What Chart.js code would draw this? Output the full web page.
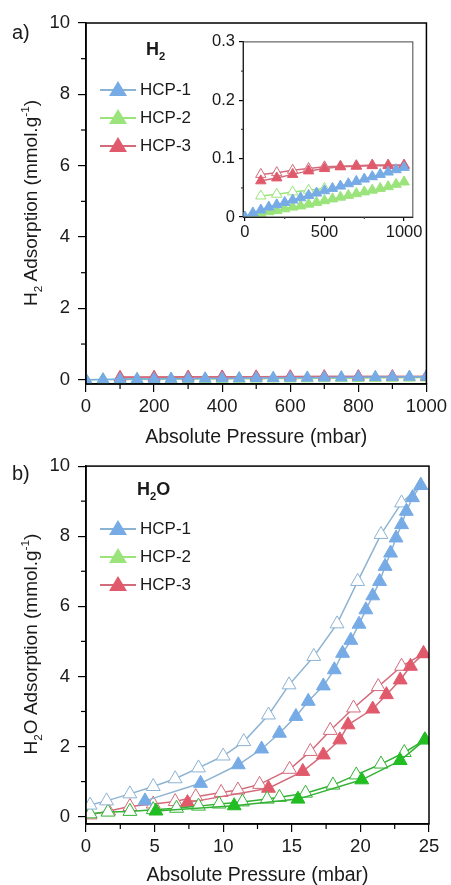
<!DOCTYPE html>
<html>
<head>
<meta charset="utf-8">
<script src="https://cdn.jsdelivr.net/npm/chart.js@4.4.1/dist/chart.umd.min.js"></script>
<style>
body { margin: 0; background: #fff; overflow: hidden; font-family: "Liberation Sans", Arial, sans-serif; color: #1a1a1a; }
#page { position: relative; width: 451px; height: 885px; }
canvas { position: absolute; }
.lbl { position: absolute; white-space: nowrap; line-height: 1.2; }
.ytitle { position: absolute; font-size: 19px; white-space: nowrap; transform: translate(-50%, -50%) rotate(-90deg); }
.ytitle sup, .ytitle sub, .lbl sub { font-size: 0.62em; }
.leg { position: absolute; left: 100px; height: 20px; font-size: 17px; display: flex; align-items: center; }
.leg .sym { position: relative; width: 36px; height: 20px; margin-right: 4px; }
.leg .ln { position: absolute; left: 0; right: 0; top: 9px; height: 2px; }
.leg .tri { position: absolute; left: 9px; top: 1px; width: 0; height: 0; border-left: 9px solid transparent; border-right: 9px solid transparent; border-bottom: 15px solid; }
</style>
</head>
<body>
<div id="page">
  <canvas id="h2Chart" width="451" height="447" style="left:0;top:0"></canvas>
  <canvas id="h2oChart" width="451" height="438" style="left:0;top:447px"></canvas>
  <canvas id="insetChart" width="230" height="225" style="left:195px;top:28px"></canvas>

  <div class="lbl" style="left:12px;top:20px;font-size:20px">a)</div>
  <div class="lbl" style="left:12px;top:461px;font-size:20px">b)</div>
  <div class="lbl" style="left:146px;top:39px;font-size:18px;font-weight:bold">H<sub>2</sub></div>
  <div class="lbl" style="left:137px;top:479px;font-size:18px;font-weight:bold">H<sub>2</sub>O</div>

  <div class="ytitle" style="left:31px;top:203px">H<sub>2</sub> Adsorption (mmol.g<sup>-1</sup>)</div>
  <div class="ytitle" style="left:31px;top:644px">H<sub>2</sub>O Adsorption (mmol.g<sup>-1</sup>)</div>

  <div id="legTop"></div>
  <div id="legBottom"></div>
</div>

<script>
// --- DATA ---
// H2 isotherms, pressure in mbar, uptake in mmol/g
const h2P = [0, 50, 100, 150, 200, 250, 300, 350, 400, 450, 500, 550, 600, 650, 700, 750, 800, 850, 900, 950, 1000];
const h2Hcp1Ads = [0, 0.007, 0.012, 0.017, 0.021, 0.025, 0.029, 0.033, 0.037, 0.041, 0.045, 0.049, 0.053, 0.057, 0.061, 0.065, 0.069, 0.073, 0.077, 0.081, 0.085];
const h2Hcp2Ads = [0, 0.003, 0.006, 0.009, 0.011, 0.014, 0.017, 0.019, 0.022, 0.025, 0.028, 0.031, 0.034, 0.037, 0.040, 0.043, 0.046, 0.049, 0.052, 0.056, 0.060];
const h2P100 = [100, 200, 300, 400, 500, 600, 700, 800, 900, 1000];
const h2Hcp3Ads = [0.062, 0.067, 0.073, 0.079, 0.083, 0.086, 0.087, 0.088, 0.088, 0.088];
const h2Hcp3Des = [0.073, 0.076, 0.080, 0.083, 0.086, 0.087, 0.088, 0.089, 0.089, 0.089];
const h2Hcp2DesP = [100, 200, 300, 400, 500];
const h2Hcp2Des = [0.036, 0.039, 0.043, 0.046, 0.049];

// H2O isotherms, pressure in mbar, uptake in mmol/g
const h2oHcp1AdsP = [4.3, 8.35, 11.1, 12.8, 14.1, 15.3, 16.2, 17.3, 18.1, 18.7, 19.3, 19.9, 20.4, 20.9, 21.4, 21.8, 22.2, 22.6, 23.0, 23.35, 23.8, 24.4];
const h2oHcp1Ads = [0.45, 0.95, 1.48, 1.93, 2.38, 2.86, 3.29, 3.73, 4.19, 4.66, 5.03, 5.49, 5.9, 6.3, 6.71, 7.14, 7.52, 7.95, 8.33, 8.71, 9.1, 9.45];
const h2oHcp1DesP = [24.4, 23.0, 21.5, 19.8, 18.3, 16.6, 14.8, 13.3, 11.5, 10.0, 8.2, 6.5, 4.9, 3.2, 1.5, 0.3];
const h2oHcp1Des = [9.45, 8.95, 8.05, 6.71, 5.5, 4.57, 3.76, 2.9, 2.14, 1.73, 1.39, 1.08, 0.86, 0.65, 0.45, 0.33];
const h2oHcp2AdsP = [5.1, 10.8, 15.45, 20.1, 22.9, 24.7];
const h2oHcp2Ads = [0.16, 0.31, 0.5, 1.05, 1.6, 2.19];
const h2oHcp2DesP = [24.7, 23.2, 21.5, 19.7, 18.0, 16.0, 14.1, 13.2, 11.4, 9.7, 8.2, 6.6, 4.9, 3.2, 1.6, 0.3];
const h2oHcp2Des = [2.19, 1.83, 1.5, 1.19, 0.9, 0.67, 0.55, 0.5, 0.42, 0.36, 0.3, 0.24, 0.2, 0.15, 0.13, 0.08];
const h2oHcp3AdsP = [7.4, 13.3, 15.8, 17.3, 18.5, 19.1, 20.9, 21.9, 22.9, 23.65, 24.6];
const h2oHcp3Ads = [0.40, 0.81, 1.29, 1.76, 2.19, 2.62, 3.07, 3.48, 3.9, 4.29, 4.65];
const h2oHcp3DesP = [24.6, 23.0, 21.3, 19.5, 17.8, 16.35, 14.84, 12.65, 11.07, 9.85, 8.0, 6.5, 4.9, 3.2, 1.65, 0.3];
const h2oHcp3Des = [4.65, 4.29, 3.71, 3.1, 2.46, 1.86, 1.35, 0.92, 0.76, 0.69, 0.57, 0.43, 0.36, 0.29, 0.16, 0.05];

// tick values
const h2XTicks = [0, 200, 400, 600, 800, 1000];
const h2XMinor = [100, 300, 500, 700, 900];
const yTicks = [0, 2, 4, 6, 8, 10];
const yMinor = [1, 3, 5, 7, 9];
const insetXTicks = [0, 500, 1000];
const insetXMinor = [250, 750];
const insetYTicks = [0, 0.1, 0.2, 0.3];
const insetYMinor = [0.05, 0.15, 0.25];
const h2oXTicks = [0, 5, 10, 15, 20, 25];
const h2oXMinor = [2.5, 7.5, 12.5, 17.5, 22.5];

const legendNames = ['HCP-1', 'HCP-2', 'HCP-3'];

// --- STYLE ---
const FONT = '"Liberation Sans", Arial, sans-serif';
const BLUE = '#76abe6', BLUE_LN = '#8db3d3';
const RED = '#e15a6c', RED_LN = '#d36b7b';
const LGREEN = '#9be47b';
const GREEN = '#22bd22', GREEN_LN = '#33b233';

const pts = (xs, ys) => xs.map((x, i) => ({ x: x, y: ys[i] }));

function filled(xs, ys, color, line, r) {
    return {
        data: pts(xs, ys), showLine: true, borderColor: line, borderWidth: 1.5,
        pointStyle: 'triangle', pointRadius: r, pointBackgroundColor: color,
        pointBorderColor: color, pointBorderWidth: 1
    };
}

function open(xs, ys, line, r) {
    return {
        data: pts(xs, ys), showLine: true, borderColor: line, borderWidth: 1.5,
        pointStyle: 'triangle', pointRadius: r, pointBackgroundColor: '#fff',
        pointBorderColor: line, pointBorderWidth: 1
    };
}

// box round the plot area + minor ticks, positions come from the scales
const framePlugin = {
    id: 'frame',
    afterDraw(chart, args, o) {
        const { ctx, chartArea: a, scales } = chart;
        ctx.save();
        ctx.strokeStyle = o.color || '#000';
        ctx.lineWidth = o.width || 1.5;
        ctx.strokeRect(a.left, a.top, a.right - a.left, a.bottom - a.top);
        ctx.lineWidth = 1.2;
        (o.xMinor || []).forEach(v => {
            const px = scales.x.getPixelForValue(v);
            ctx.beginPath(); ctx.moveTo(px, a.bottom); ctx.lineTo(px, a.bottom + o.minorLen); ctx.stroke();
        });
        (o.yMinor || []).forEach(v => {
            const py = scales.y.getPixelForValue(v);
            ctx.beginPath(); ctx.moveTo(a.left, py); ctx.lineTo(a.left - o.minorLen, py); ctx.stroke();
        });
        ctx.restore();
    }
};

function makeOptions(c) {
    return {
        responsive: false,
        animation: false,
        layout: { padding: { left: 0, top: c.top, right: c.right, bottom: 0 } },
        plugins: {
            legend: { display: false },
            tooltip: { enabled: false },
            frame: { xMinor: c.xMinor, yMinor: c.yMinor, minorLen: c.minorLen, color: c.frameColor, width: c.frameWidth }
        },
        scales: {
            x: {
                type: 'linear', min: c.xMin, max: c.xMax,
                afterBuildTicks: s => { s.ticks = c.xTicks.map(v => ({ value: v })); },
                afterFit: s => { s.height = c.xHeight; },
                grid: { drawOnChartArea: false, drawTicks: true, tickLength: c.tickLen, color: '#000', lineWidth: 1.2 },
                border: { color: '#000', width: c.frameWidth },
                ticks: { color: '#1a1a1a', padding: c.xPad, maxRotation: 0, font: { family: FONT, size: c.tickSize }, callback: v => String(v) },
                title: c.xTitle ? { display: true, text: c.xTitle, color: '#1a1a1a', padding: 0, font: { family: FONT, size: 19.5, lineHeight: 1 } } : { display: false }
            },
            y: {
                type: 'linear', min: c.yMin, max: c.yMax,
                afterBuildTicks: s => { s.ticks = c.yTicks.map(v => ({ value: v })); },
                afterFit: s => { s.width = c.yWidth; },
                grid: { drawOnChartArea: false, drawTicks: true, tickLength: c.tickLen, color: '#000', lineWidth: 1.2 },
                border: { color: '#000', width: c.frameWidth },
                ticks: { color: '#1a1a1a', padding: c.yPad, font: { family: FONT, size: c.tickSize }, callback: v => String(Math.round(v * 10) / 10) }
            }
        }
    };
}

function h2Datasets(r) {
    return [
        filled(h2P, h2Hcp1Ads, BLUE, BLUE, r),
        filled(h2P100, h2Hcp3Ads, RED, RED_LN, r),
        open(h2P100, h2Hcp3Des, RED_LN, r),
        filled(h2P, h2Hcp2Ads, LGREEN, LGREEN, r),
        open(h2Hcp2DesP, h2Hcp2Des, LGREEN, r)
    ];
}

// --- CHARTS ---
new Chart(document.getElementById('h2Chart'), {
    type: 'scatter',
    data: { datasets: h2Datasets(6.8) },
    options: makeOptions({
        top: 23, right: 22, yWidth: 86, xHeight: 63,
        xMin: 0, xMax: 1000, yMin: -0.12, yMax: 10,
        xTicks: h2XTicks, yTicks: yTicks, xMinor: h2XMinor, yMinor: yMinor,
        tickLen: 8, minorLen: 5, xPad: 4, yPad: 8, tickSize: 18.5,
        frameWidth: 1.5, xTitle: 'Absolute Pressure (mbar)'
    }),
    plugins: [framePlugin]
});

new Chart(document.getElementById('insetChart'), {
    type: 'scatter',
    data: { datasets: h2Datasets(6) },
    options: makeOptions({
        top: 11, right: 11, yWidth: 48, xHeight: 36,
        xMin: -12, xMax: 1055, yMin: 0, yMax: 0.3,
        xTicks: insetXTicks, yTicks: insetYTicks, xMinor: insetXMinor, yMinor: insetYMinor,
        tickLen: 4, minorLen: 2, xPad: 2, yPad: 4, tickSize: 16.5,
        frameWidth: 1, frameColor: '#444'
    }),
    plugins: [{ id: 'bg', beforeDraw(chart) { const c = chart.ctx; c.save(); c.fillStyle = '#fff'; c.fillRect(0, 0, chart.width, chart.height); c.restore(); } }, framePlugin]
});

new Chart(document.getElementById('h2oChart'), {
    type: 'scatter',
    data: {
        datasets: [
            filled(h2oHcp1AdsP, h2oHcp1Ads, BLUE, BLUE_LN, 8),
            open(h2oHcp1DesP, h2oHcp1Des, BLUE_LN, 8),
            filled(h2oHcp2AdsP, h2oHcp2Ads, GREEN, GREEN_LN, 8),
            open(h2oHcp2DesP, h2oHcp2Des, GREEN_LN, 8),
            filled(h2oHcp3AdsP, h2oHcp3Ads, RED, RED_LN, 8),
            open(h2oHcp3DesP, h2oHcp3Des, RED_LN, 8)
        ]
    },
    options: makeOptions({
        top: 18, right: 22, yWidth: 86, xHeight: 61,
        xMin: 0, xMax: 25, yMin: -0.21, yMax: 10,
        xTicks: h2oXTicks, yTicks: yTicks, xMinor: h2oXMinor, yMinor: yMinor,
        tickLen: 8, minorLen: 5, xPad: 4, yPad: 8, tickSize: 18.5,
        frameWidth: 1.5, xTitle: 'Absolute Pressure (mbar)'
    }),
    plugins: [framePlugin]
});

// --- LEGENDS ---
function buildLegend(id, tops, colors) {
    document.getElementById(id).innerHTML = legendNames.map((name, i) => `
        <div class="leg" style="top:${tops[i]}px">
            <div class="sym"><div class="ln" style="background:${colors[i][1]}"></div><div class="tri" style="border-bottom-color:${colors[i][0]}"></div></div>
            <span>${name}</span>
        </div>`).join('');
}
buildLegend('legTop', [80, 108, 136], [[BLUE, BLUE_LN], [LGREEN, LGREEN], [RED, RED_LN]]);
buildLegend('legBottom', [519, 547, 575], [[BLUE, BLUE_LN], [LGREEN, LGREEN], [RED, RED_LN]]);
</script>
</body>
</html>
